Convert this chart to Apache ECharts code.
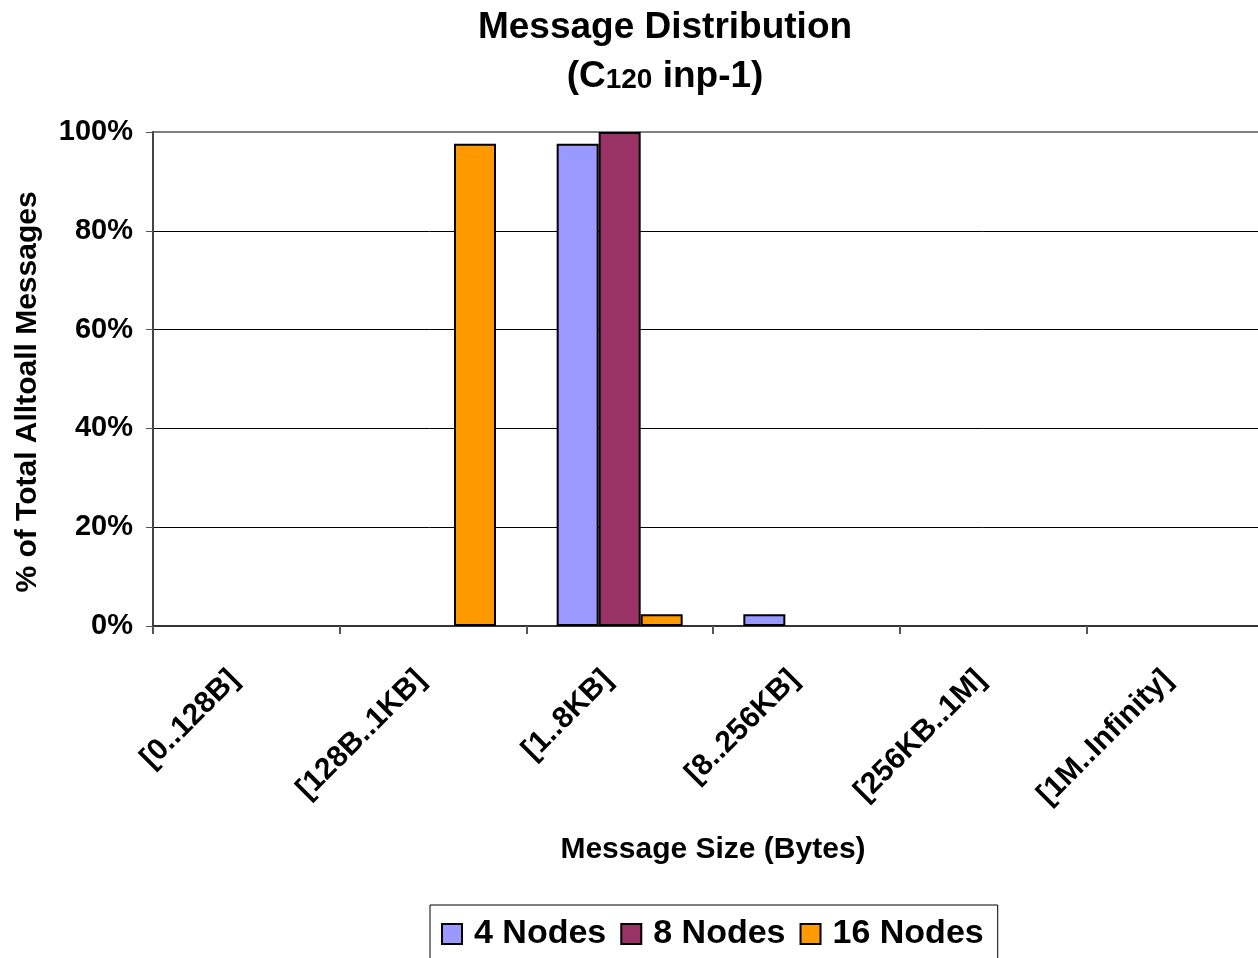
<!DOCTYPE html>
<html>
<head>
<meta charset="utf-8">
<script src="https://cdn.jsdelivr.net/npm/echarts@6/dist/echarts.min.js"></script>
<style>
  html, body { margin: 0; padding: 0; background: #fff; }
  #chart { width: 1258px; height: 958px; }
</style>
</head>
<body>
<div id="chart"></div>
<script>
// Message size buckets on the x axis
const categories = ['[0..128B]', '[128B..1KB]', '[1..8KB]', '[8..256KB]', '[256KB..1M]', '[1M..Infinity]'];

// Share of all Alltoall messages per bucket (%)
const nodes4 = [0, 0, 97.6, 2.4, 0, 0];
const nodes8 = [0, 0, 100, 0, 0, 0];
const nodes16 = [0, 97.6, 2.4, 0, 0, 0];

const seriesNames = ['4 Nodes', '8 Nodes', '16 Nodes'];
const seriesColors = ['#9999FF', '#993366', '#FF9900'];

// y axis ticks (%)
const yTicks = [0, 20, 40, 60, 80, 100];

const FONT = 'Liberation Sans, Arial, sans-serif';

// zero-height bars get no outline so they don't leave a stub on the axis
function toBarData(values) {
  return values.map(v => v === 0 ? { value: v, itemStyle: { borderWidth: 0 } } : v);
}

const chart = echarts.init(document.getElementById('chart'), null, { renderer: 'canvas' });

chart.setOption({
  animation: false,
  backgroundColor: '#fff',
  title: {
    left: 660,
    top: -2,
    textAlign: 'center',
    text: '{a|Message Distribution}\n{a|(C}{b|120}{a| inp-1)}',
    textStyle: {
      rich: {
        a: { fontFamily: FONT, fontWeight: 'bold', fontSize: 37, color: '#000', lineHeight: 49 },
        b: { fontFamily: FONT, fontWeight: 'bold', fontSize: 28, color: '#000', padding: [7, 0, 0, 0] }
      }
    }
  },
  legend: {
    left: 430,
    top: 905,
    data: seriesNames,
    icon: 'rect',
    itemWidth: 20,
    itemHeight: 20,
    itemGap: 14,
    padding: [12, 14, 30, 11],
    borderColor: '#000',
    borderWidth: 1,
    backgroundColor: '#fff',
    textStyle: { fontFamily: FONT, fontWeight: 'bold', fontSize: 34, color: '#000', padding: [0, 0, 0, 7] }
  },
  grid: {
    left: 153,
    top: 132,
    right: -15,
    bottom: 332,
    outerBoundsMode: 'none',
    containLabel: false,
    show: true,
    borderColor: '#808080',
    borderWidth: 2,
    backgroundColor: '#fff'
  },
  xAxis: {
    type: 'category',
    data: categories,
    name: 'Message Size (Bytes)',
    nameLocation: 'middle',
    nameGap: 209,
    nameTextStyle: { fontFamily: FONT, fontWeight: 'bold', fontSize: 30, color: '#000' },
    axisLine: { show: true, lineStyle: { color: '#333', width: 2 } },
    axisTick: { show: true, alignWithLabel: false, length: 8, lineStyle: { color: '#555', width: 2 } },
    axisLabel: {
      rotate: 45,
      margin: 37,
      interval: 0,
      padding: [0, 17, 0, 0],
      fontFamily: FONT,
      fontWeight: 'bold',
      fontSize: 30,
      color: '#000'
    },
    splitLine: { show: false }
  },
  yAxis: {
    type: 'value',
    min: yTicks[0],
    max: yTicks[yTicks.length - 1],
    interval: yTicks[1] - yTicks[0],
    name: '% of Total Alltoall Messages',
    nameLocation: 'middle',
    nameGap: 110,
    nameRotate: 90,
    nameTextStyle: { fontFamily: FONT, fontWeight: 'bold', fontSize: 30, color: '#000', padding: [0, 26, 0, 0] },
    axisLine: { show: true, lineStyle: { color: '#444', width: 2 } },
    axisTick: { show: true, inside: false, length: 7, lineStyle: { color: '#555', width: 1 } },
    axisLabel: {
      margin: 20,
      formatter: v => v + '%',
      fontFamily: FONT,
      fontWeight: 'bold',
      fontSize: 29,
      color: '#000'
    },
    splitLine: {
      show: true,
      lineStyle: { color: ['#000', '#000', '#000', '#000', '#000', '#808080'], width: 1 }
    }
  },
  series: [nodes4, nodes8, nodes16].map((vals, i) => ({
    name: seriesNames[i],
    type: 'bar',
    data: toBarData(vals),
    barWidth: 42,
    barGap: '0%',
    itemStyle: { color: seriesColors[i], borderColor: '#000', borderWidth: 2 }
  }))
});
</script>
</body>
</html>
